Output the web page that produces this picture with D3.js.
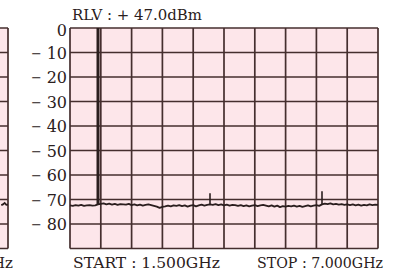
<!DOCTYPE html>
<html>
<head>
<meta charset="utf-8">
<script src="https://cdn.jsdelivr.net/npm/d3@7"></script>
<style>
  body { margin: 0; background: #fff; }
  text { font-family: "DejaVu Serif", serif; fill: #2a2020; }
</style>
</head>
<body>
<svg id="chart" width="395" height="274"></svg>
<script>
// sweep settings and reading
const startGHz = 1.5, stopGHz = 7.0, stepGHz = 0.05;
const levelTicks = [0, -10, -20, -30, -40, -50, -60, -70, -80, -90];
const levelLabels = [0, -10, -20, -30, -40, -50, -60, -70, -80];
const noiseLevels = [
  -72.4,-72.6,-72.3,-72.5,-72.2,-72.6,-72.4,-72.3,-72.5,-72.4,
  -72.0,
  -71.8,-71.6,-72.0,-71.7,-72.1,-71.8,-72.2,-71.9,-72.0,
  -72.1,-71.8,-72.3,-72.0,-72.4,-72.1,-72.5,-72.2,-72.0,-72.3,
  -72.6,-72.9,-73.4,-73.0,-72.8,-72.5,-72.8,-72.4,-72.6,-72.3,
  -72.7,-72.4,-72.9,-72.5,-72.3,-72.8,-72.4,-72.1,-72.5,-72.2,
  -72.0,
  -72.2,-71.9,-72.3,-72.0,-72.4,-72.1,-72.5,-72.2,-72.3,
  -72.6,-72.3,-72.7,-72.4,-72.8,-72.5,-72.3,-72.7,-72.4,-72.2,
  -72.5,-72.8,-72.4,-72.9,-72.5,-73.1,-72.7,-72.9,-72.6,-72.8,
  -72.5,-72.9,-72.6,-73.0,-72.7,-72.4,-72.8,-72.5,-72.3,-72.6,
  -72.0,
  -71.7,-71.9,-71.6,-72.0,-71.8,-72.1,-71.9,-72.2,-72.0,
  -72.3,-72.0,-72.4,-72.1,-72.5,-72.2,-72.4,-72.0,-72.3,-72.1,-72.2
];
const spikeGHz = [2.0, 4.0, 6.0];
const spikeTops = [0, -67.4, -66.6];
const spikeWidths = [3, 1.6, 1.6];
// tail of the previous figure, cut off at the left edge
const prevLevels = [-72.3, -72.0, -71.4, -72.2, -72.1];

const svg = d3.select("#chart");
const pink = "#fde6ea", gridCol = "#452e2e", traceCol = "#2a1e1e";

const x = d3.scaleLinear().domain([startGHz, stopGHz]).range([70, 378]);
const y = d3.scaleLinear().domain([0, -90]).range([28, 248.5]);
const xTicks = d3.range(11).map(i => startGHz + i * (stopGHz - startGHz) / 10);

function grid(g, xs) {
  g.append("rect")
    .attr("x", xs.range()[0]).attr("y", y(0))
    .attr("width", xs.range()[1] - xs.range()[0]).attr("height", y(-90) - y(0))
    .attr("fill", pink);
  g.selectAll("line.h").data(levelTicks).enter().append("line")
    .attr("class", "h")
    .attr("x1", xs.range()[0]).attr("x2", xs.range()[1])
    .attr("y1", d => y(d)).attr("y2", d => y(d))
    .attr("stroke", gridCol).attr("stroke-width", 1.7);
  g.selectAll("line.v").data(xTicks).enter().append("line")
    .attr("class", "v")
    .attr("x1", d => xs(d)).attr("x2", d => xs(d))
    .attr("y1", y(0)).attr("y2", y(-90))
    .attr("stroke", gridCol).attr("stroke-width", 1.7);
}

// previous figure (only its right edge shows)
const xPrev = d3.scaleLinear().domain([startGHz, stopGHz]).range([-300, 8]);
const gp = svg.append("g");
grid(gp, xPrev);
gp.append("path")
  .datum(prevLevels)
  .attr("fill", "none").attr("stroke", traceCol).attr("stroke-width", 1.8)
  .attr("d", d3.line().x((d, i) => xPrev(stopGHz - (prevLevels.length - 1 - i) * stepGHz * 0.6)).y(d => y(d)));
gp.append("text")
  .attr("x", xPrev(stopGHz) + 5).attr("y", 268)
  .attr("text-anchor", "end").attr("font-size", 15)
  .text("STOP : 7.000GHz");

// main figure
const g = svg.append("g");
grid(g, x);

const line = d3.line()
  .x((d, i) => x(startGHz + i * stepGHz))
  .y(d => y(d));
g.append("path")
  .datum(noiseLevels)
  .attr("fill", "none").attr("stroke", traceCol).attr("stroke-width", 1.8)
  .attr("stroke-linejoin", "round")
  .attr("d", line);

g.selectAll("line.spike").data(spikeGHz).enter().append("line")
  .attr("class", "spike")
  .attr("x1", d => x(d)).attr("x2", d => x(d))
  .attr("y1", (d, i) => y(noiseLevels[Math.round((d - startGHz) / stepGHz)]))
  .attr("y2", (d, i) => y(spikeTops[i]))
  .attr("stroke", traceCol)
  .attr("stroke-width", (d, i) => spikeWidths[i]);

// level labels: number right-aligned, minus sign set apart on the left
g.selectAll("text.lvl").data(levelLabels).enter().append("text")
  .attr("class", "lvl")
  .attr("x", 67).attr("y", d => y(d) + (d === 0 ? 8 : 6))
  .attr("text-anchor", "end").attr("font-size", 16)
  .text(d => Math.abs(d));
g.selectAll("text.minus").data(levelLabels.filter(d => d < 0)).enter().append("text")
  .attr("class", "minus")
  .attr("x", 31).attr("y", d => y(d) + 5)
  .attr("font-size", 13)
  .text("\u2212");

g.append("text")
  .attr("x", 72).attr("y", 20).attr("font-size", 15)
  .attr("textLength", 130).attr("lengthAdjust", "spacingAndGlyphs")
  .text("RLV : + 47.0dBm");
g.append("text")
  .attr("x", 73).attr("y", 268).attr("font-size", 15)
  .attr("textLength", 147).attr("lengthAdjust", "spacingAndGlyphs")
  .text("START : 1.500GHz");
g.append("text")
  .attr("x", 257).attr("y", 268).attr("font-size", 15)
  .attr("textLength", 126).attr("lengthAdjust", "spacingAndGlyphs")
  .text("STOP : 7.000GHz");
</script>
</body>
</html>
